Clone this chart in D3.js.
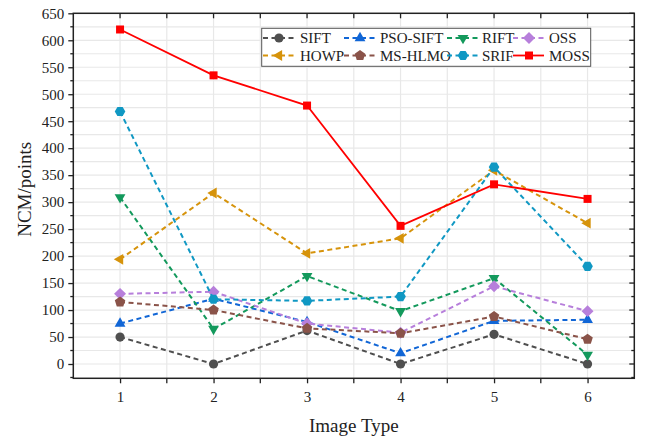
<!DOCTYPE html>
<html>
<head>
<meta charset="utf-8">
<script src="https://cdn.jsdelivr.net/npm/d3@7"></script>
<style>
  html, body { margin: 0; padding: 0; background: #fff; }
  svg { display: block; font-family: "Liberation Serif", "Times New Roman", serif; }
</style>
</head>
<body>
<svg id="chart" width="645" height="441"></svg>
<script>
// Image types on the x axis
const imageTypes = [1, 2, 3, 4, 5, 6];

// NCM (number of correct matches) per method
const sift    = [50, 0, 62, 0, 55, 0];
const psoSift = [75, 121, 78, 20, 80, 82];
const rift    = [309, 65, 163, 98, 159, 17];
const oss     = [130, 134, 75, 58, 144, 98];
const howp    = [194, 317, 205, 233, 359, 261];
const msHlmo  = [115, 100, 66, 57, 88, 46];
const srif    = [468, 120, 117, 125, 365, 181];
const moss    = [620, 535, 479, 256, 333, 306];

const yTicks = [0, 50, 100, 150, 200, 250, 300, 350, 400, 450, 500, 550, 600, 650];

const series = [
  { name: "SIFT",     values: sift,    color: "#4f4f4f", shape: "circle",   dashed: true },
  { name: "PSO-SIFT", values: psoSift, color: "#1166d6", shape: "triUp",    dashed: true },
  { name: "RIFT",     values: rift,    color: "#13995c", shape: "triDown",  dashed: true },
  { name: "OSS",      values: oss,     color: "#b77fdb", shape: "diamond",  dashed: true },
  { name: "HOWP",     values: howp,    color: "#d6930b", shape: "triLeft",  dashed: true },
  { name: "MS-HLMO",  values: msHlmo,  color: "#8a5349", shape: "pentagon", dashed: true },
  { name: "SRIF",     values: srif,    color: "#1098c3", shape: "hexagon",  dashed: true },
  { name: "MOSS",     values: moss,    color: "#ff0000", shape: "square",   dashed: false }
];

const FONT = '"Liberation Serif", "Times New Roman", serif';

const svg = d3.select("#chart");
const W = 645, H = 441;
const margin = { top: 13.3, right: 10.7, bottom: 62.7, left: 73.3 };
const iw = W - margin.left - margin.right;
const ih = H - margin.top - margin.bottom;

const x = d3.scaleLinear().domain([0.5, 6.5]).range([0, iw]);
const y = d3.scaleLinear().domain([-26.5, 650]).range([ih, 0]);

const g = svg.append("g").attr("transform", `translate(${margin.left},${margin.top})`);

// light grid at every major and minor step
const xGrid = d3.range(1, 13).map(i => 0.5 + i * 0.5).filter(v => v < 6.5);
const yGrid = d3.range(0, 650, 25);
g.append("g").selectAll("line").data(xGrid).join("line")
  .attr("x1", d => x(d)).attr("x2", d => x(d)).attr("y1", 0).attr("y2", ih)
  .attr("stroke", "#e8e8e8").attr("stroke-width", 1.2);
g.append("g").selectAll("line").data(yGrid).join("line")
  .attr("x1", 0).attr("x2", iw).attr("y1", d => y(d)).attr("y2", d => y(d))
  .attr("stroke", "#e8e8e8").attr("stroke-width", 1.2);

// marker shapes
function shapePath(shape, r) {
  const poly = (n, rot, rad) => {
    const pts = d3.range(n).map(i => {
      const a = rot + i * 2 * Math.PI / n;
      return [rad * Math.cos(a), rad * Math.sin(a)];
    });
    return "M" + pts.map(p => p.join(",")).join("L") + "Z";
  };
  switch (shape) {
    case "circle":   return d3.symbol(d3.symbolCircle, Math.PI * r * r)();
    case "square":   return `M${-r},${-r}H${r}V${r}H${-r}Z`;
    case "triUp":    return poly(3, -Math.PI / 2, r * 1.25);
    case "triDown":  return poly(3, Math.PI / 2, r * 1.25);
    case "triLeft":  return poly(3, Math.PI, r * 1.25);
    case "diamond":  return poly(4, -Math.PI / 2, r * 1.3);
    case "pentagon": return poly(5, -Math.PI / 2, r * 1.15);
    case "hexagon":  return poly(6, 0, r * 1.1);
  }
}
const markerR = { circle: 4.6, square: 4, triUp: 5, triDown: 5, triLeft: 5, diamond: 4.6, pentagon: 4.8, hexagon: 4.8 };

const line = d3.line().x((d, i) => x(imageTypes[i])).y(d => y(d));

series.forEach(s => {
  const sg = g.append("g");
  sg.append("path").datum(s.values)
    .attr("d", line)
    .attr("fill", "none")
    .attr("stroke", s.color)
    .attr("stroke-width", s.dashed ? 2 : 1.8)
    .attr("stroke-dasharray", s.dashed ? "5,3.5" : null);
  sg.selectAll("path.m").data(s.values).join("path")
    .attr("class", "m")
    .attr("transform", (d, i) => `translate(${x(imageTypes[i])},${y(d)})`)
    .attr("d", shapePath(s.shape, markerR[s.shape]))
    .attr("fill", s.color);
});

// frame
g.append("rect").attr("x", 0).attr("y", 0).attr("width", iw).attr("height", ih)
  .attr("fill", "none").attr("stroke", "#222").attr("stroke-width", 1.5);

// bottom axis
const xAxis = g.append("g").attr("transform", `translate(0,${ih})`)
  .call(d3.axisBottom(x).tickValues(imageTypes).tickFormat(d3.format("d")).tickSize(5).tickPadding(8));
xAxis.attr("font-family", FONT).attr("font-size", 15);
xAxis.select(".domain").remove();
xAxis.selectAll(".tick line").attr("stroke", "#222").attr("stroke-width", 1.3);
xAxis.selectAll("text").attr("fill", "#222");
g.append("g").attr("transform", `translate(0,${ih})`).selectAll("line")
  .data(xGrid.filter(v => !imageTypes.includes(v))).join("line")
  .attr("x1", d => x(d)).attr("x2", d => x(d)).attr("y1", 0).attr("y2", 5)
  .attr("stroke", "#222").attr("stroke-width", 1.3);

// top mirror ticks
g.append("g").selectAll("line").data(xGrid).join("line")
  .attr("x1", d => x(d)).attr("x2", d => x(d)).attr("y1", 0).attr("y2", 5)
  .attr("stroke", "#222").attr("stroke-width", 1.3);

// left axis
const yAxis = g.append("g")
  .call(d3.axisLeft(y).tickValues(yTicks).tickSize(5).tickPadding(4));
yAxis.attr("font-family", FONT).attr("font-size", 15);
yAxis.select(".domain").remove();
yAxis.selectAll(".tick line").attr("stroke", "#222").attr("stroke-width", 1.3);
yAxis.selectAll("text").attr("fill", "#222");
const yMinor = d3.range(-25, 650, 50);
g.append("g").selectAll("line").data(yMinor).join("line")
  .attr("x1", -3).attr("x2", 0).attr("y1", d => y(d)).attr("y2", d => y(d))
  .attr("stroke", "#222").attr("stroke-width", 1.3);

// right mirror ticks
g.append("g").selectAll("line").data(yTicks).join("line")
  .attr("x1", iw - 5).attr("x2", iw).attr("y1", d => y(d)).attr("y2", d => y(d))
  .attr("stroke", "#222").attr("stroke-width", 1.3);
g.append("g").selectAll("line").data(yMinor).join("line")
  .attr("x1", iw - 3).attr("x2", iw).attr("y1", d => y(d)).attr("y2", d => y(d))
  .attr("stroke", "#222").attr("stroke-width", 1.3);

// axis titles
svg.append("text")
  .attr("x", margin.left + iw / 2).attr("y", 432)
  .attr("text-anchor", "middle").attr("font-size", 19).attr("fill", "#222")
  .attr("font-family", FONT)
  .text("Image Type");
svg.append("text")
  .attr("transform", `translate(31,${margin.top + 176}) rotate(-90)`)
  .attr("text-anchor", "middle").attr("font-size", 19).attr("fill", "#222")
  .attr("font-family", FONT)
  .text("NCM/points");

// legend
const lg = svg.append("g").attr("font-family", FONT);
lg.append("rect").attr("x", 261.7).attr("y", 28.3).attr("width", 329).attr("height", 38)
  .attr("fill", "#fff").attr("stroke", "#555").attr("stroke-width", 1);
const colX = [263, 344, 447, 513];
const textX = [300, 380, 482, 549];
const rowY = [38, 55.5];
series.forEach((s, i) => {
  const c = i % 4, r = Math.floor(i / 4);
  const x0 = colX[c], yy = rowY[r];
  lg.append("line").attr("x1", x0).attr("x2", x0 + 31).attr("y1", yy).attr("y2", yy)
    .attr("stroke", s.color).attr("stroke-width", s.dashed ? 2 : 1.8)
    .attr("stroke-dasharray", s.dashed ? "5,3.5" : null);
  lg.append("path").attr("transform", `translate(${x0 + 16},${yy})`)
    .attr("d", shapePath(s.shape, markerR[s.shape])).attr("fill", s.color);
  lg.append("text").attr("x", textX[c]).attr("y", yy + 5)
    .attr("font-size", 15).attr("fill", "#222").text(s.name);
});
</script>
</body>
</html>
